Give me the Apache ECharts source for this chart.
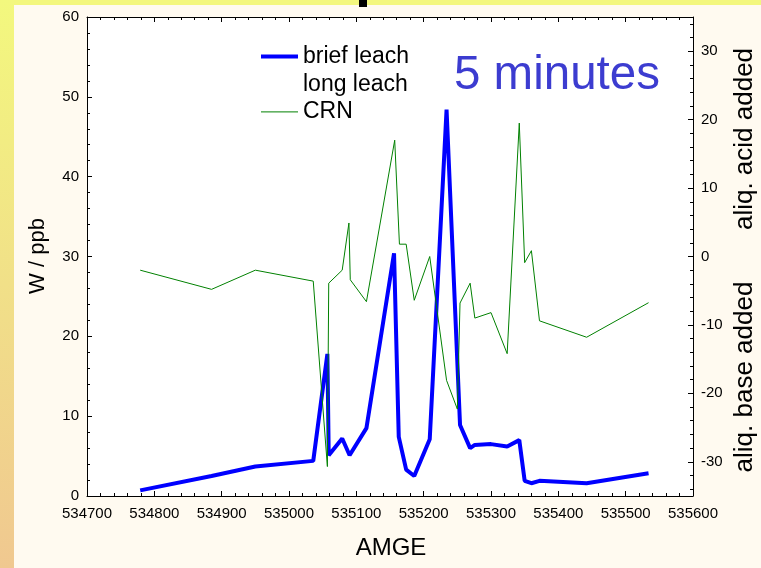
<!DOCTYPE html>
<html>
<head>
<meta charset="utf-8">
<script src="https://cdn.jsdelivr.net/npm/echarts@6/dist/echarts.min.js"></script>
<style>
html,body{margin:0;padding:0;background:#FFFAF0;}
#wrap{position:relative;width:761px;height:568px;overflow:hidden;}
#stripTop{position:absolute;left:0;top:0;width:761px;height:5px;background:#F3F77E;}
#stripLeft{position:absolute;left:0;top:0;width:14px;height:568px;background:linear-gradient(#F3F87E,#F1E088,#F0C890);}
#plotBg{position:absolute;left:87px;top:17px;width:606px;height:479px;background:#FFFFFF;}
#c{position:absolute;left:0;top:0;width:761px;height:568px;z-index:1;}
</style>
</head>
<body>
<div id="wrap">
<div id="stripTop"></div>
<div id="stripLeft"></div>
<div id="plotBg"></div>
<div id="c"></div>
</div>
<script>
// ---- data ----
const seriesNames = ['brief leach', 'long leach', 'CRN'];
const briefX = [534779, 534885, 534950, 535036, 535057, 535059, 535079, 535090, 535115, 535156, 535163, 535174, 535186, 535209, 535234, 535254, 535269, 535276, 535300, 535324, 535342, 535350, 535360, 535372, 535442, 535534];
const briefW = [0.7, 2.5, 3.7, 4.4, 17.8, 5.1, 7.2, 5.1, 8.5, 30.4, 7.4, 3.3, 2.5, 7.1, 48.4, 8.9, 6.0, 6.4, 6.5, 6.2, 7.0, 1.9, 1.6, 1.9, 1.6, 2.85];
const longX = [];
const longW = [];
const crnX = [534779, 534885, 534950, 535036, 535057, 535059, 535079, 535089, 535091, 535115, 535157, 535164, 535174, 535186, 535209, 535234, 535250, 535254, 535269, 535276, 535300, 535324, 535342, 535350, 535360, 535372, 535442, 535534];
const crnR = [-2.0, -4.8, -2.0, -3.6, -30.7, -3.9, -2.0, 4.9, -3.4, -6.6, 17.0, 1.8, 1.8, -6.4, 0.0, -18.1, -22.3, -6.8, -3.9, -9.0, -8.2, -14.2, 19.5, -0.9, 0.85, -9.4, -11.8, -6.75];
const rightMajor = [-30, -20, -10, 0, 10, 20, 30];
const rightMinor = [-34, -32, -28, -26, -24, -22, -18, -16, -14, -12, -8, -6, -4, -2, 2, 4, 6, 8, 12, 14, 16, 18, 22, 24, 26, 28, 32, 34];

const FONT = '"Liberation Sans", Arial, sans-serif';
const zip = (a, b) => a.map((v, i) => [v, b[i]]);

const chart = echarts.init(document.getElementById('c'));
const line = () => ({show: true, onZero: false, lineStyle: {color: '#000'}});
const tick = (len, extra) => Object.assign({show: true, inside: true, length: len, lineStyle: {color: '#000', width: 1}}, extra || {});
const minor = () => ({show: true, splitNumber: 5, length: 3, lineStyle: {color: '#000'}});
const split = () => ({show: false});
const label = (extra) => Object.assign({show: true, color: '#000', fontSize: 15, fontFamily: FONT}, extra || {});

chart.setOption({
  backgroundColor: 'transparent',
  animation: false,
  graphic: [
    {type: 'rect', left: 359, top: 0, shape: {width: 8, height: 7}, style: {fill: '#000'}, silent: true},
    {type: 'text', x: 454, y: 76, style: {text: '5 minutes', fill: '#3C3CD0', font: '47.5px ' + FONT, textAlign: 'left', textVerticalAlign: 'middle'}},
    {type: 'text', x: 391, y: 548, style: {text: 'AMGE', fill: '#000', font: '24px ' + FONT, textAlign: 'center', textVerticalAlign: 'middle'}},
    {type: 'text', x: 38, y: 256, rotation: Math.PI / 2, style: {text: 'W / ppb', fill: '#000', font: '22px ' + FONT, textAlign: 'center', textVerticalAlign: 'middle'}},
    {type: 'text', x: 745, y: 139, rotation: Math.PI / 2, style: {text: 'aliq. acid added', fill: '#000', font: '26px ' + FONT, textAlign: 'center', textVerticalAlign: 'middle'}},
    {type: 'text', x: 745, y: 377, rotation: Math.PI / 2, style: {text: 'aliq. base added', fill: '#000', font: '26px ' + FONT, textAlign: 'center', textVerticalAlign: 'middle'}}
  ],
  grid: {left: 87, right: 68, top: 17, bottom: 72},
  legend: {
    orient: 'vertical', left: 254, top: 40, itemWidth: 37, itemHeight: 14, itemGap: 4.7,
    data: [
      {name: seriesNames[0], lineStyle: {width: 4, color: '#0000FF'}},
      {name: seriesNames[1]},
      {name: seriesNames[2], lineStyle: {width: 1, color: '#008000'}}
    ],
    itemStyle: {opacity: 0},
    textStyle: {fontSize: 23, lineHeight: 22, color: '#000', fontFamily: FONT}
  },
  xAxis: [
    {type: 'value', min: 534700, max: 535600, interval: 100, position: 'bottom',
      axisLine: line(), axisTick: tick(5), minorTick: minor(), splitLine: split(),
      axisLabel: label({margin: 10, formatter: v => String(v)})},
    {type: 'value', min: 534700, max: 535600, interval: 100, position: 'top',
      axisLine: line(), axisTick: tick(5), minorTick: minor(), splitLine: split(),
      axisLabel: {show: false}}
  ],
  yAxis: [
    {type: 'value', min: 0, max: 60, interval: 10, position: 'left',
      axisLine: line(), axisTick: tick(5), minorTick: minor(), splitLine: split(),
      axisLabel: label({margin: 8})},
    {type: 'value', min: -35, max: 35, position: 'right',
      axisLine: line(), axisTick: tick(5, {customValues: rightMajor}), splitLine: split(),
      axisLabel: label({margin: 8, customValues: rightMajor})},
    {type: 'value', min: -35, max: 35, position: 'right',
      axisLine: {show: false, onZero: false}, axisTick: tick(3, {customValues: rightMinor}), splitLine: split(),
      axisLabel: {show: false, customValues: rightMinor}}
  ],
  series: [
    {name: 'brief leach', type: 'line', xAxisIndex: 0, yAxisIndex: 0, symbol: 'none',
      lineStyle: {color: '#0000FF', width: 4}, itemStyle: {color: '#0000FF'},
      data: zip(briefX, briefW), z: 2},
    {name: 'long leach', type: 'line', xAxisIndex: 0, yAxisIndex: 0, symbol: 'none',
      lineStyle: {color: 'rgba(0,0,0,0)', width: 1}, itemStyle: {color: 'rgba(0,0,0,0)'},
      data: zip(longX, longW)},
    {name: 'CRN', type: 'line', xAxisIndex: 0, yAxisIndex: 1, symbol: 'none',
      lineStyle: {color: '#008000', width: 1}, itemStyle: {color: '#008000'},
      data: zip(crnX, crnR), z: 3}
  ]
});
</script>
</body>
</html>
